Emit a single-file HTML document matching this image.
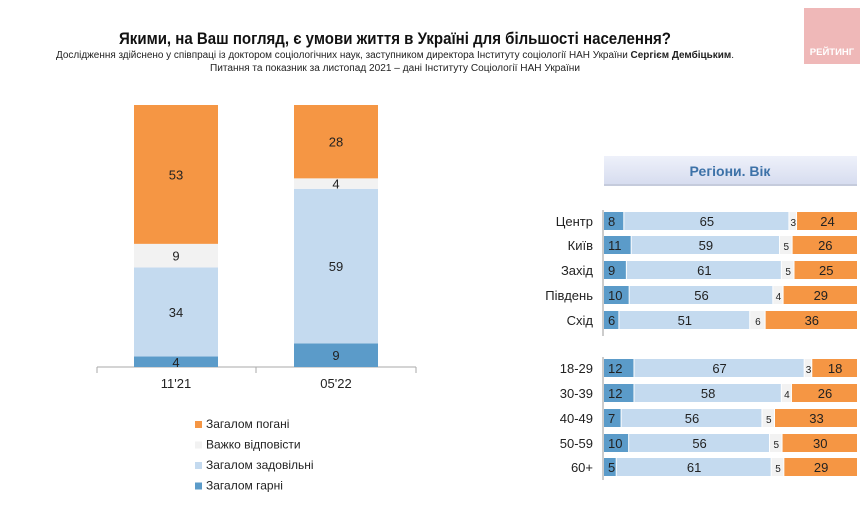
<!DOCTYPE html>
<html><head><meta charset="utf-8"><style>
body{margin:0;background:#fff;width:867px;height:502px;overflow:hidden;font-family:"Liberation Sans","Noto Sans CJK SC",sans-serif}
</style></head><body>
<svg id="c" width="867" height="502" xmlns="http://www.w3.org/2000/svg" font-family="Liberation Sans, sans-serif">
<defs><linearGradient id="hg" x1="0" y1="0" x2="0" y2="1"><stop offset="0" stop-color="#eef1fa"/><stop offset="1" stop-color="#d6dcef"/></linearGradient></defs>
<text x="395" y="44" font-size="16.5" font-weight="bold" text-anchor="middle" fill="#111" textLength="552" lengthAdjust="spacingAndGlyphs">Якими, на Ваш погляд, є умови життя в Україні для більшості населення?</text>
<text x="395" y="58" font-size="10" text-anchor="middle" fill="#222" textLength="678" lengthAdjust="spacingAndGlyphs">Дослідження здійснено у співпраці із доктором соціологічних наук, заступником директора Інституту соціології НАН України <tspan font-weight="bold">Сергієм Дембіцьким</tspan>.</text>
<text x="395" y="71" font-size="10" text-anchor="middle" fill="#222" textLength="370" lengthAdjust="spacingAndGlyphs">Питання та показник за листопад 2021 – дані Інституту Соціології НАН України</text>
<g><rect x="804" y="8" width="56" height="56" fill="#efb8b8"/><text x="832" y="55" font-size="9.5" font-weight="bold" fill="#fff" text-anchor="middle">РЕЙТИНГ</text></g>
<g id="left"></g>
<g><rect x="604" y="156" width="253" height="29" fill="url(#hg)"/><rect x="604" y="184" width="253" height="2" fill="#c5cbdc"/><text x="730" y="176" font-size="14" font-weight="bold" fill="#3d72a8" text-anchor="middle">Регіони. Вік</text></g>
<g id="right"></g>
</svg>
<script>
const colors=["#5b9bc9","#c4daef","#f2f2f2","#f59644"];
const seriesNames=["Загалом гарні","Загалом задовільні","Важко відповісти","Загалом погані"];
const periods=["11'21","05'22"];
const good=[4,9];
const satisf=[34,59];
const hard=[9,4];
const bad=[53,28];
const rowLabels=["Центр","Київ","Захід","Південь","Схід","18-29","30-39","40-49","50-59","60+"];
const rGood=[8,11,9,10,6,12,12,7,10,5];
const rSatisf=[65,59,61,56,51,67,58,56,56,61];
const rHard=[3,5,5,4,6,3,4,5,5,5];
const rBad=[24,26,25,29,36,18,26,33,30,29];
const NS="http://www.w3.org/2000/svg";
function mk(p,t,a,txt){const e=document.createElementNS(NS,t);for(const k in a)e.setAttribute(k,a[k]);if(txt!==undefined)e.textContent=txt;p.appendChild(e);return e;}
const L=document.getElementById('left');
const y0=367,ppu=2.62;
const yv=v=>y0-v*ppu;
const xc=i=>176+i*160;
let ax=mk(L,'path',{d:'M97 367H416M97 367v6M256 367v6M416 367v6',stroke:'#aaa',fill:'none'});


const ser=[good,satisf,hard,bad];
periods.forEach((p,i)=>{let cum=0;
 ser.forEach((s,k)=>{const v=s[i];
  const r=mk(L,'rect',{x:xc(i)-42,y:yv(cum+v),width:84,height:v*ppu,fill:colors[k]});
  
  
  const t=mk(L,'text',{x:xc(i),y:yv(cum+v/2)+5,'font-size':13,'text-anchor':'middle',fill:'#222'},v);
  
  
  cum+=v;});
 const l=mk(L,'text',{x:xc(i),y:388,'font-size':13,'text-anchor':'middle',fill:'#222'},p);
 
 
});
[3,2,1,0].forEach((k,j)=>{const y=426+j*20.5;
 const s=mk(L,'rect',{x:195,y:y-5,width:7,height:7,fill:colors[k]});
 
 
 const t=mk(L,'text',{x:206,y:y+2,'font-size':12,fill:'#222'},seriesNames[k]);
 
 
});
const R=document.getElementById('right');
const rowY=[221,245,270,295,320,368,393,418,443,467];
let ra=mk(R,'path',{d:'M603 210V336M603 357V480',stroke:'#999',fill:'none'});


const rser=[rGood,rSatisf,rHard,rBad];
rowLabels.forEach((lab,i)=>{const y=rowY[i];
 const tot=rGood[i]+rSatisf[i]+rHard[i]+rBad[i];const pw=254/tot;let x=604;
 const t=mk(R,'text',{x:593,y:y+5,'font-size':13,'text-anchor':'end',fill:'#222'},lab);
 
 
 rser.forEach((s,k)=>{const w=s[i]*pw;
  const r=mk(R,'rect',{x:x,y:y-9,width:w-1,height:18,fill:colors[k]});
  
  
  const v=mk(R,'text',{x:k==0?x+4:x+w/2,y:y+5,'font-size':k==2?10:13,'text-anchor':k==0?'start':'middle',fill:'#222'},s[i]);
  
  
  x+=w;});
});
</script>
</body></html>
